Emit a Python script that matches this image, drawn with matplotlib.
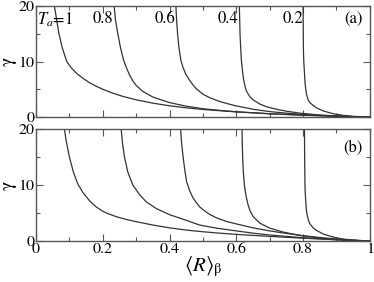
import matplotlib
matplotlib.use("Agg")
import matplotlib.pyplot as plt
from matplotlib.ticker import MultipleLocator

plt.rcParams['font.family'] = ['STIXGeneral', 'DejaVu Serif']
plt.rcParams['mathtext.fontset'] = 'stix'
plt.rcParams['font.size'] = 11.5

# ===== data =====
temps = ['1', '0.8', '0.6', '0.4', '0.2']

# panel (a)
r_a_10 = [0.055, 0.06, 0.068, 0.078, 0.092, 0.105, 0.12, 0.14, 0.16, 0.18, 0.2, 0.23, 0.26,
          0.3, 0.35, 0.4, 0.45, 0.5, 0.6, 0.7, 0.8, 0.9, 1.0]
g_a_10 = [20, 18.2, 15.2, 12.6, 10, 8.9, 7.95, 7.0, 6.2, 5.55, 5.0, 4.3, 3.72,
          3.1, 2.5, 2.02, 1.66, 1.36, 0.92, 0.6, 0.36, 0.16, 0]
r_a_08 = [0.234, 0.238, 0.245, 0.253, 0.262, 0.27, 0.28, 0.29, 0.3, 0.32, 0.35, 0.4, 0.45,
          0.5, 0.55, 0.6, 0.7, 0.8, 0.9, 1.0]
g_a_08 = [20, 17.5, 15, 12.5, 10.3, 9.0, 7.6, 6.5, 5.7, 4.6, 3.6, 2.6, 1.95,
          1.5, 1.2, 0.95, 0.58, 0.32, 0.13, 0]
r_a_06 = [0.419, 0.421, 0.424, 0.428, 0.434, 0.44, 0.448, 0.459, 0.47, 0.48, 0.5, 0.52, 0.55,
          0.58, 0.6, 0.65, 0.7, 0.75, 0.8, 0.85, 0.9, 0.95, 1.0]
g_a_06 = [20, 17.5, 15, 12.5, 10.2, 9.0, 7.8, 6.7, 5.8, 5.1, 4.1, 3.5, 2.8,
          2.3, 2.0, 1.4, 0.98, 0.7, 0.46, 0.28, 0.15, 0.05, 0]
r_a_04 = [0.609, 0.610, 0.611, 0.613, 0.615, 0.618, 0.621, 0.625, 0.63, 0.64, 0.65, 0.67, 0.69,
          0.72, 0.75, 0.79, 0.84, 0.89, 0.95, 1.0]
g_a_04 = [20, 17.5, 15, 12.5, 10.3, 8.5, 7.0, 5.8, 4.7, 3.7, 3.1, 2.35, 1.86,
          1.4, 1.05, 0.7, 0.42, 0.22, 0.07, 0]
r_a_02 = [0.800, 0.8005, 0.801, 0.802, 0.804, 0.806, 0.808, 0.81, 0.812, 0.815, 0.82, 0.83,
          0.84, 0.86, 0.89, 0.92, 0.95, 1.0]
g_a_02 = [20, 15, 12, 10, 8, 6.0, 5.0, 4.2, 3.7, 3.1, 2.6, 2.1,
          1.65, 1.1, 0.6, 0.3, 0.12, 0]

# panel (b)
r_b_10 = [0.085, 0.09, 0.10, 0.112, 0.125, 0.14, 0.16, 0.18, 0.2, 0.215, 0.24, 0.27, 0.3,
          0.35, 0.4, 0.45, 0.5, 0.55, 0.6, 0.7, 0.8, 0.9, 1.0]
g_b_10 = [20, 18, 15, 12.3, 10.2, 8.7, 7.2, 6.1, 5.3, 4.9, 4.35, 3.85, 3.45,
          2.85, 2.35, 1.95, 1.65, 1.4, 1.18, 0.82, 0.5, 0.22, 0]
r_b_08 = [0.255, 0.259, 0.265, 0.275, 0.29, 0.31, 0.33, 0.36, 0.4, 0.44, 0.49, 0.54, 0.6,
          0.65, 0.7, 0.8, 0.9, 1.0]
g_b_08 = [20, 17.5, 15, 12.3, 10, 8.3, 7.0, 5.8, 4.7, 3.9, 2.85, 2.3, 1.8,
          1.4, 1.07, 0.58, 0.22, 0]
r_b_06 = [0.433, 0.436, 0.441, 0.446, 0.451, 0.46, 0.471, 0.49, 0.5, 0.52, 0.54, 0.57, 0.6,
          0.65, 0.7, 0.75, 0.8, 0.85, 0.9, 0.95, 1.0]
g_b_06 = [20, 17.5, 14.8, 12.5, 10.6, 9.0, 7.6, 6.1, 5.6, 4.75, 4.15, 3.5, 3.05,
          2.35, 1.8, 1.35, 0.95, 0.62, 0.35, 0.14, 0]
r_b_04 = [0.617, 0.618, 0.619, 0.621, 0.624, 0.627, 0.63, 0.635, 0.641, 0.65, 0.67, 0.7,
          0.74, 0.79, 0.84, 0.89, 0.95, 1.0]
g_b_04 = [20, 17, 14.8, 12.3, 10, 8.8, 7.8, 6.5, 5.4, 4.4, 3.2, 2.3,
          1.6, 1.0, 0.6, 0.3, 0.1, 0]
r_b_02 = [0.804, 0.8045, 0.805, 0.8055, 0.806, 0.808, 0.81, 0.813, 0.816, 0.82, 0.83, 0.84,
          0.86, 0.89, 0.92, 0.95, 1.0]
g_b_02 = [20, 16, 13, 10.5, 9, 7, 5.4, 4.4, 3.7, 3.1, 2.35, 1.9,
          1.25, 0.7, 0.35, 0.15, 0]

curves_a = [(r_a_10, g_a_10), (r_a_08, g_a_08), (r_a_06, g_a_06), (r_a_04, g_a_04), (r_a_02, g_a_02)]
curves_b = [(r_b_10, g_b_10), (r_b_08, g_b_08), (r_b_06, g_b_06), (r_b_04, g_b_04), (r_b_02, g_b_02)]

# label x positions for the T_a annotations (panel a)
label_x = [0.003, 0.2, 0.386, 0.575, 0.77]

fig = plt.figure(figsize=(3.74, 2.82), dpi=100)
ax_a = fig.add_axes([0.0963, 0.585, 0.8927, 0.3937])
ax_b = fig.add_axes([0.0963, 0.1454, 0.8927, 0.3972])

line_col = '#333333'
for ax, curves in [(ax_a, curves_a), (ax_b, curves_b)]:
    for r, g in curves:
        ax.plot(r, g, color=line_col, lw=0.9)
    ax.set_xlim(0, 1)
    ax.set_ylim(0, 20)
    ax.xaxis.set_major_locator(MultipleLocator(0.2))
    ax.xaxis.set_minor_locator(MultipleLocator(0.1))
    ax.yaxis.set_major_locator(MultipleLocator(10))
    ax.yaxis.set_minor_locator(MultipleLocator(5))
    ax.tick_params(which='both', direction='in', top=True, right=True, width=0.8, color='#555555')
    ax.tick_params(which='major', length=5, pad=1)
    ax.tick_params(which='minor', length=3)
    for s in ax.spines.values():
        s.set_color('#555555')
        s.set_linewidth(1.0)
    ax.set_ylabel('γ', fontsize=14, labelpad=1)

ax_a.set_xticklabels([])
ax_b.set_xticks([0, 0.2, 0.4, 0.6, 0.8, 1.0])
ax_b.set_xticklabels(['0', '0.2', '0.4', '0.6', '0.8', '1'])
ax_b.set_xlabel(r'$\langle R\rangle_{\mathrm{\beta}}$', fontsize=15, labelpad=-1)

# annotations
ax_a.text(label_x[0], 17.6, r'$T_a$=1', ha='left', va='center', fontsize=12)
for t, x in zip(temps[1:], label_x[1:]):
    ax_a.text(x, 17.6, t, ha='center', va='center', fontsize=12)
ax_a.text(0.95, 17.6, '(a)', ha='center', va='center', fontsize=12)
ax_b.text(0.95, 16.6, '(b)', ha='center', va='center', fontsize=12)

fig.savefig('out.png', dpi=100)
